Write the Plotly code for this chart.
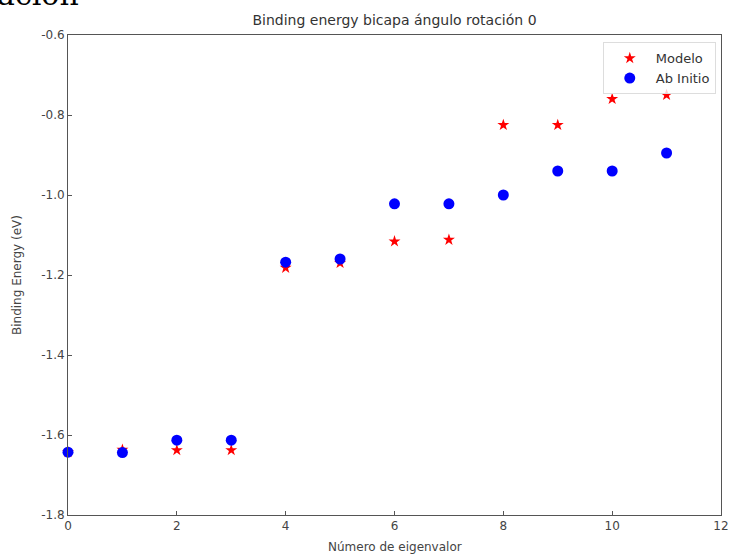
import plotly.graph_objects as go

x_vals = [0, 1, 2, 3, 4, 5, 6, 7, 8, 9, 10, 11]
modelo = [-1.643, -1.637, -1.638, -1.638, -1.182, -1.170, -1.116, -1.112, -0.825, -0.825, -0.760, -0.750]
ab_initio = [-1.643, -1.644, -1.613, -1.613, -1.168, -1.160, -1.022, -1.022, -1.000, -0.940, -0.940, -0.895]

x_ticks = [0, 2, 4, 6, 8, 10, 12]
y_ticks = [-1.8, -1.6, -1.4, -1.2, -1.0, -0.8, -0.6]
y_labels = ["-1.8", "-1.6", "-1.4", "-1.2", "-1.0", "-0.8", "-0.6"]

W, H = 730, 557
L, R, T, B = 68, 9, 35, 42
PW, PH = W - L - R, H - T - B

fig = go.Figure()
fig.add_trace(go.Scatter(x=x_vals, y=modelo, mode="markers", name="Modelo",
                         marker=dict(symbol="star", color="red", size=9, line=dict(width=0)),
                         cliponaxis=False))
fig.add_trace(go.Scatter(x=x_vals, y=ab_initio, mode="markers", name="Ab Initio",
                         marker=dict(symbol="circle", color="blue", size=11, line=dict(width=0)),
                         cliponaxis=False))

axis_common = dict(showgrid=False, zeroline=False, showline=True, linecolor="#555",
                   linewidth=1, mirror=True, ticks="inside", ticklen=4, tickcolor="#555",
                   automargin=False,
                   tickfont=dict(family="DejaVu Sans", size=12, color="#444"))
fig.update_xaxes(range=[0, 12], tickvals=x_ticks, ticktext=[str(t) for t in x_ticks], **axis_common)
fig.update_yaxes(range=[-1.8, -0.6], tickvals=y_ticks, ticktext=y_labels, **axis_common)

title_font = dict(family="DejaVu Sans", size=12, color="#444")
fig.update_layout(
    width=W, height=H,
    margin=dict(l=L, r=R, t=T, b=B),
    paper_bgcolor="white", plot_bgcolor="white",
    title=dict(text="Binding energy bicapa ángulo rotación 0", x=0.5, xanchor="center",
               xref="paper", y=1 - 20 / H, yanchor="middle",
               font=dict(family="DejaVu Sans", size=14, color="#333")),
    legend=dict(x=0.992, y=0.985, xanchor="right", yanchor="top", itemwidth=42,
                bgcolor="rgba(255,255,255,0.8)", bordercolor="#ddd", borderwidth=1,
                font=dict(family="DejaVu Sans", size=13, color="#333")),
    showlegend=True,
    annotations=[
        dict(text="tación", xref="paper", yref="paper",
             x=(81 - L) / PW, y=1 + (T - 14) / PH,
             xanchor="right", yanchor="bottom", showarrow=False,
             font=dict(family="DejaVu Serif", size=30, color="black")),
        dict(text="Número de eigenvalor", xref="paper", yref="paper",
             x=0.5, y=-(547 - (H - B)) / PH, xanchor="center", yanchor="middle",
             showarrow=False, font=title_font),
        dict(text="Binding Energy (eV)", xref="paper", yref="paper",
             x=-(L - 17) / PW, y=0.5, xanchor="center", yanchor="middle",
             textangle=-90, showarrow=False, font=title_font),
    ],
)

fig.write_html("out.html")
